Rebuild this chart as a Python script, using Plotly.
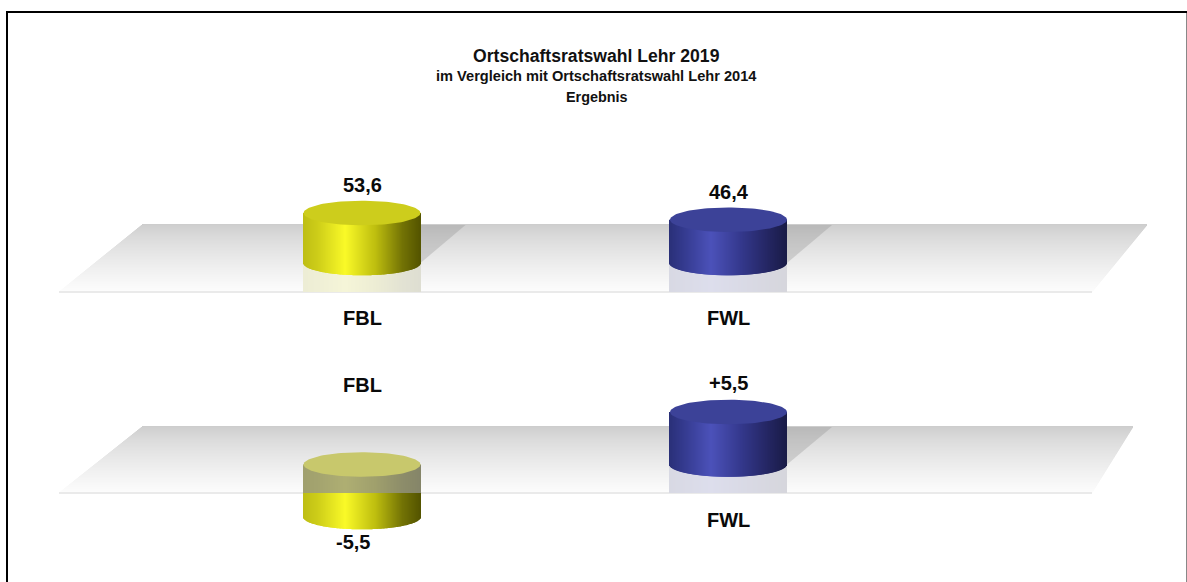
import numpy as np
import plotly.graph_objects as go

# ---- data ----
parties = ["FBL", "FWL"]
result_2019 = [53.6, 46.4]
change_2014 = [-5.5, 5.5]
title_lines = ["Ortschaftsratswahl Lehr 2019",
               "im Vergleich mit Ortschaftsratswahl Lehr 2014",
               "Ergebnis"]

# ---- geometry and styling ----
W, H = 1187, 582
X0, XSTEP = 362.0, 366.5          # pixel of category 0, pixels per category
def xv(px):
    return (np.asarray(px, float) - X0) / XSTEP
def py(px):
    return 1 - px / H

CYL_R = 58.5 / XSTEP
ELL_PX = 12.3
P1 = dict(zero=263.0, scale=0.933, top=130, bot=310, plate=(225, 292), xs=(59, 142, 1147, 1092))
P2 = dict(zero=464.5, scale=9.55, top=320, bot=578, plate=(427, 493), xs=(59, 142, 1133, 1092))
for P in (P1, P2):
    P["range"] = [(P["zero"] - P["bot"]) / P["scale"], (P["zero"] - P["top"]) / P["scale"]]
    P["plate_bottom"] = (P["zero"] - P["plate"][1]) / P["scale"]

STOPS = [0.0, 0.12, 0.36, 0.62, 0.85, 1.0]
YELLOW = np.array([[190, 190, 20], [205, 205, 25], [250, 250, 40], [190, 190, 15], [115, 115, 5], [85, 85, 0]], float)
BLUE = np.array([[42, 48, 120], [52, 58, 142], [76, 82, 186], [52, 56, 140], [36, 38, 98], [26, 28, 72]], float)
TOPS = {"FBL": "rgb(205,205,28)", "FWL": "rgb(60,66,152)"}
RAMPS = {"FBL": YELLOW, "FWL": BLUE}

def rgb(a):
    return ["rgb(%d,%d,%d)" % tuple(np.clip(c, 0, 255)) for c in a]

def ramp(name, t):
    r = RAMPS[name]
    return np.stack([np.interp(t, STOPS, r[:, k]) for k in range(3)], axis=1)

fig = go.Figure()

def add_plate(P, yaxis):
    tpx, bpx = P["plate"]
    rows = np.arange(tpx, bpx + 1) + 0.0
    f = (rows - tpx) / (bpx - tpx)
    lefts = P["xs"][1] + (P["xs"][0] - P["xs"][1]) * f
    rights = P["xs"][2] + (P["xs"][3] - P["xs"][2]) * f
    shade = 205 + 48 * f ** 0.75
    cols = np.stack([shade] * 3, axis=1)
    cols[-1] = [234, 234, 234]
    fig.add_trace(go.Bar(
        orientation="h",
        y=(P["zero"] - rows) / P["scale"],
        base=xv(lefts),
        x=xv(rights) - xv(lefts),
        width=1.02 / P["scale"],
        marker=dict(color=rgb(cols), line=dict(width=0)),
        yaxis=yaxis, hoverinfo="skip"))

def add_shadow(P, i, value, yaxis):
    cx = i
    tpx = P["plate"][0]
    right = cx + CYL_R
    extent = 45 / XSTEP
    fig.add_trace(go.Scatter(
        x=[right, right, right + extent, right],
        y=[0, (P["zero"] - tpx) / P["scale"], (P["zero"] - tpx) / P["scale"], 0],
        mode="lines", fill="toself", line=dict(width=0),
        fillcolor="rgba(120,120,120,0.25)", yaxis=yaxis, hoverinfo="skip"))

def add_cylinder(P, i, name, value, yaxis):
    ell = ELL_PX / P["scale"]
    xs = i + CYL_R * (np.linspace(-1, 1, 118))
    xs = xs[:-1] + (xs[1] - xs[0]) / 2
    t = (xs - (i - CYL_R)) / (2 * CYL_R)
    arc = ell * np.sqrt(np.clip(1 - ((xs - i) / CYL_R) ** 2, 0, 1))
    grad = ramp(name, t)
    w = 2 * CYL_R / 117 * 1.02
    lo, hi = min(0, value), max(0, value)
    pb = P["plate_bottom"]
    if value >= 0:
        # reflection on the plate
        fig.add_trace(go.Bar(
            x=xs, base=np.full_like(xs, pb), y=(lo - arc) - pb, width=w,
            marker=dict(color=rgb(grad * 0.14 + 245 * 0.86), line=dict(width=0)),
            yaxis=yaxis, hoverinfo="skip"))
        fig.add_trace(go.Bar(
            x=xs, base=lo - arc, y=np.full_like(xs, hi) - (lo - arc), width=w,
            marker=dict(color=rgb(grad), line=dict(width=0)),
            yaxis=yaxis, hoverinfo="skip"))
        top_col = TOPS[name]
    else:
        # part seen through the plate is washed out
        washed = grad * 0.25 + np.array([150, 150, 140]) * 0.75
        fig.add_trace(go.Bar(
            x=xs, base=lo - arc, y=pb - (lo - arc), width=w,
            marker=dict(color=rgb(grad), line=dict(width=0)),
            yaxis=yaxis, hoverinfo="skip"))
        fig.add_trace(go.Bar(
            x=xs, base=np.full_like(xs, pb), y=np.full_like(xs, hi - pb), width=w,
            marker=dict(color=rgb(washed), line=dict(width=0)),
            yaxis=yaxis, hoverinfo="skip"))
        top_col = "rgb(200,200,108)"
    a = np.linspace(0, 2 * np.pi, 121)
    fig.add_trace(go.Scatter(
        x=i + CYL_R * np.cos(a), y=hi + ell * np.sin(a),
        mode="lines", fill="toself", line=dict(width=0),
        fillcolor=top_col, yaxis=yaxis, hoverinfo="skip"))

# panel 1: y (ground) + y3 (cylinders); panel 2: y2 (ground) + y4 (cylinders)
add_plate(P1, "y")
add_plate(P2, "y2")
for i, v in enumerate(result_2019):
    add_shadow(P1, i, v, "y")
    add_cylinder(P1, i, parties[i], v, "y3")
for i, v in enumerate(change_2014):
    if v >= 0:
        add_shadow(P2, i, v, "y2")
    add_cylinder(P2, i, parties[i], v, "y4")

FONT = "Liberation Sans"
def label(text, x, y, yref="paper", yshift=0, size=20, xshift=0):
    fig.add_annotation(text=text, x=x, y=y, xref="x", yref=yref, yshift=yshift, xshift=xshift,
                       showarrow=False, xanchor="center", yanchor="middle",
                       font=dict(family=FONT, size=size, color="#0a0a0a", weight="bold"))

def fmt(v, signed=False):
    s = f"{v:+.1f}" if signed else f"{v:.1f}"
    return s.replace(".", ",")

for i, v in enumerate(result_2019):
    label(fmt(v), i, v, yref="y", yshift=28)
    label(parties[i], i, py(318))
for i, v in enumerate(change_2014):
    if v >= 0:
        label(fmt(v, True), i, v, yref="y2", yshift=29)
    else:
        label(fmt(v, True), i, v, yref="y2", yshift=-25, xshift=-9)
label(parties[0], 0, py(385))
label(parties[1], 1, py(520))

for text, px, size in zip(title_lines, (55.5, 76, 97), (17.6, 14.6, 14.4)):
    fig.add_annotation(text=text, x=597 / W, y=py(px), xref="paper", yref="paper",
                       showarrow=False, xanchor="center", yanchor="middle",
                       font=dict(family=FONT, size=size, color="#111111", weight="bold"))

border = [
    dict(type="line", xref="paper", yref="paper", x0=7 / W, x1=7 / W, y0=0, y1=py(11),
         line=dict(color="black", width=2)),
    dict(type="line", xref="paper", yref="paper", x0=6 / W, x1=1187 / W, y0=py(12), y1=py(12),
         line=dict(color="black", width=2)),
    dict(type="line", xref="paper", yref="paper", x0=1186.5 / W, x1=1186.5 / W, y0=0, y1=py(13),
         line=dict(color="#888888", width=1)),
]

hidden = dict(visible=False, fixedrange=True)
fig.update_layout(
    width=W, height=H, margin=dict(l=0, r=0, t=0, b=0),
    paper_bgcolor="white", plot_bgcolor="rgba(0,0,0,0)",
    showlegend=False, barmode="overlay", shapes=border,
    xaxis=dict(range=[float(xv(0)), float(xv(W))], domain=[0, 1], **hidden),
    yaxis=dict(domain=[py(P1["bot"]), py(P1["top"])], range=P1["range"], **hidden),
    yaxis2=dict(domain=[py(P2["bot"]), py(P2["top"])], range=P2["range"], anchor="x", **hidden),
    yaxis3=dict(overlaying="y", range=P1["range"], anchor="x", **hidden),
    yaxis4=dict(overlaying="y2", range=P2["range"], anchor="x", **hidden),
)

fig.write_html("out.html", config=dict(displayModeBar=False),
               post_script="document.body.style.margin='0';document.body.style.overflow='hidden';")
